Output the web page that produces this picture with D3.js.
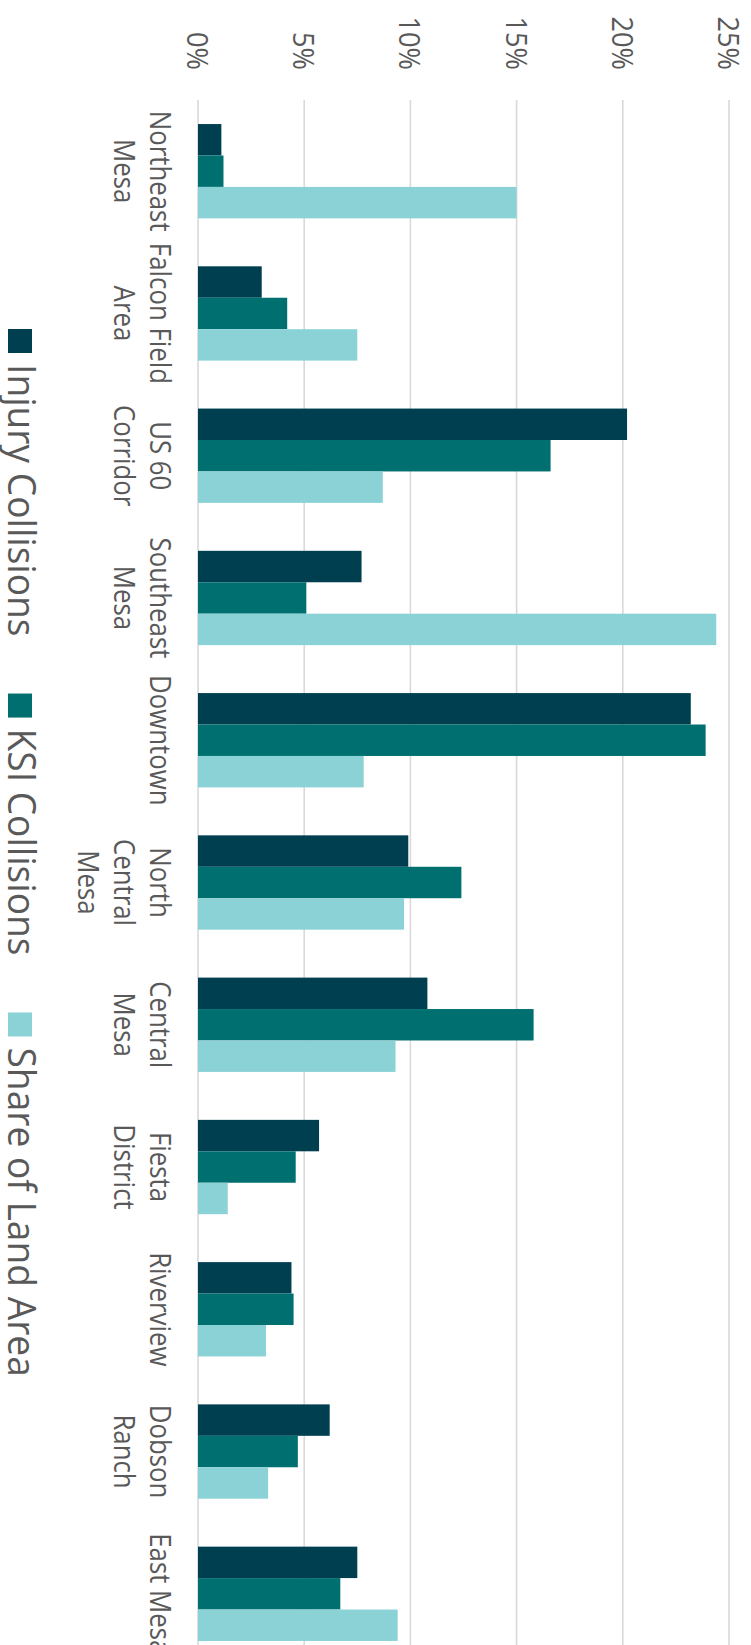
<!DOCTYPE html>
<html>
<head>
<meta charset="utf-8">
<script src="https://cdn.jsdelivr.net/npm/d3@7"></script>
<style>
  html, body { margin: 0; padding: 0; background: #fff; }
  svg { display: block; font-family: 'Open Sans', 'Noto Sans', sans-serif; }
</style>
</head>
<body>
<svg id="chart"></svg>
<script>
// areas along the category axis (line breaks as in the original labels)
const categories = [
    'Northeast\nMesa', 'Falcon Field\nArea', 'US 60\nCorridor', 'Southeast\nMesa',
    'Downtown', 'North\nCentral\nMesa', 'Central\nMesa', 'Fiesta\nDistrict',
    'Riverview', 'Dobson\nRanch', 'East Mesa'
];
const seriesNames = ['Injury Collisions', 'KSI Collisions', 'Share of Land Area'];
const injury = [1.1, 3.0, 20.2, 7.7, 23.2, 9.9, 10.8, 5.7, 4.4, 6.2, 7.5];
const ksi = [1.2, 4.2, 16.6, 5.1, 23.9, 12.4, 15.8, 4.6, 4.5, 4.7, 6.7];
const landArea = [15.0, 7.5, 8.7, 24.4, 7.8, 9.7, 9.3, 1.4, 3.2, 3.3, 9.4];
const tickValues = [0, 5, 10, 15, 20, 25];
const colors = ['#003f50', '#006f6f', '#8bd2d7'];

function renderChart() {
    const W = 751, H = 1645;
    const svg = d3.select('#chart').attr('width', W).attr('height', H);

    // the whole chart is drawn as a column chart and turned a quarter clockwise
    const g = svg.append('g').attr('transform', `translate(${W},0) rotate(90)`);

    const rows = categories.map((c, i) => ({
        name: c,
        values: [injury[i], ksi[i], landArea[i]]
    }));

    const x0 = d3.scaleBand()
        .domain(categories)
        .range([100, 1665])
        .paddingInner(0.337)
        .paddingOuter(0.169);
    const x1 = d3.scaleBand()
        .domain(d3.range(seriesNames.length))
        .range([0, x0.bandwidth()]);
    const y = d3.scaleLinear().domain([0, 25]).range([W - 198, W - 729]);

    // gridlines
    g.append('g')
        .selectAll('line')
        .data(tickValues)
        .enter()
        .append('line')
        .attr('x1', 100)
        .attr('x2', 1700)
        .attr('y1', (d) => y(d))
        .attr('y2', (d) => y(d))
        .attr('stroke', '#d9d9d9')
        .attr('stroke-width', 1.6);

    // value labels
    g.append('g')
        .selectAll('g')
        .data(tickValues)
        .enter()
        .append('g')
        .attr('transform', (d) => `translate(70,${y(d) + 11}) scale(0.905,1)`)
        .append('text')
        .attr('text-anchor', 'end')
        .attr('font-size', 30)
        .attr('fill', '#595959')
        .text((d) => d + '%');

    // bars
    g.append('g')
        .selectAll('g')
        .data(rows)
        .enter()
        .append('g')
        .attr('transform', (d) => `translate(${x0(d.name)},0)`)
        .selectAll('rect')
        .data((d) => d.values)
        .enter()
        .append('rect')
        .attr('x', (d, i) => x1(i))
        .attr('width', x1.bandwidth())
        .attr('y', (d) => y(d))
        .attr('height', (d) => y(0) - y(d))
        .attr('fill', (d, i) => colors[i]);

    // category labels
    const catLabel = g.append('g')
        .selectAll('g')
        .data(categories)
        .enter()
        .append('g')
        .attr('transform', (d) => `translate(${x0(d) + x0.bandwidth() / 2},${W - 150})`);
    catLabel.each(function (d) {
        d3.select(this)
            .selectAll('g')
            .data(d.split('\n'))
            .enter()
            .append('g')
            .attr('transform', (s, i) => `translate(0,${i * 36}) scale(0.89,1)`)
            .append('text')
            .attr('text-anchor', 'middle')
            .attr('font-size', 29)
            .attr('fill', '#595959')
            .text((s) => s);
    });

    // legend
    const legend = g.append('g');
    let pos = 329;
    seriesNames.forEach((name, i) => {
        legend.append('rect')
            .attr('x', pos)
            .attr('y', W - 32)
            .attr('width', 24)
            .attr('height', 24)
            .attr('fill', colors[i]);
        const t = legend.append('g')
            .attr('transform', `translate(${pos + 35},${W - 8}) scale(0.965,1)`)
            .append('text')
            .attr('font-size', 38.5)
            .attr('fill', '#595959')
            .text(name);
        pos += 35 + t.node().getComputedTextLength() * 0.965 + 57;
    });
}
renderChart();
</script>
</body>
</html>
